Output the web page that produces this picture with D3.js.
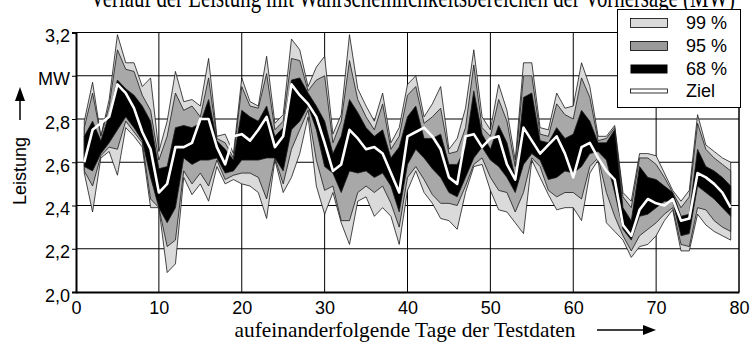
<!DOCTYPE html>
<html><head><meta charset="utf-8">
<script src="https://cdn.jsdelivr.net/npm/d3@7"></script>
<style>body{margin:0;background:#fff}svg{display:block}</style>
</head><body><svg id="c" width="752" height="346"></svg>
<script>
const days = [1,2,3,4,5,6,7,8,9,10,11,12,13,14,15,16,17,18,19,20,21,22,23,24,25,26,27,28,29,30,31,32,33,34,35,36,37,38,39,40,41,42,43,44,45,46,47,48,49,50,51,52,53,54,55,56,57,58,59,60,61,62,63,64,65,66,67,68,69,70,71,72,73,74,75,76,77,78,79];
const upper99 = [2.79,2.97,2.72,2.89,3.19,3.06,3.06,2.95,2.99,2.65,2.79,3.02,2.88,2.89,2.86,3.08,2.72,2.73,2.64,2.99,2.88,2.86,3.09,2.78,2.82,3.17,3.12,2.95,3.04,3.09,2.73,2.82,3.19,2.94,2.86,2.79,2.92,2.69,2.76,2.96,3.00,2.81,2.87,2.95,2.66,2.71,2.85,3.12,2.81,2.75,2.96,2.84,2.61,3.06,3.06,2.76,2.75,2.92,2.85,2.86,3.06,2.95,2.72,2.72,2.77,2.46,2.42,2.64,2.64,2.63,2.55,2.47,2.42,2.47,2.82,2.68,2.65,2.62,2.60];
const upper95 = [2.76,2.92,2.72,2.86,3.12,3.03,3.02,2.91,2.84,2.61,2.72,2.92,2.84,2.86,2.81,2.99,2.71,2.69,2.62,2.95,2.86,2.85,3.01,2.75,2.79,3.08,3.07,2.93,2.98,3.00,2.69,2.79,3.07,2.89,2.81,2.75,2.87,2.66,2.72,2.91,2.95,2.78,2.81,2.85,2.64,2.65,2.76,3.05,2.76,2.72,2.89,2.79,2.58,3.00,3.00,2.73,2.72,2.87,2.82,2.80,2.99,2.90,2.70,2.71,2.76,2.44,2.39,2.62,2.62,2.59,2.53,2.46,2.39,2.44,2.78,2.66,2.62,2.59,2.56];
const upper68 = [2.72,2.79,2.70,2.82,2.98,2.94,2.91,2.86,2.79,2.57,2.58,2.76,2.77,2.76,2.78,2.89,2.70,2.66,2.61,2.84,2.81,2.79,2.86,2.72,2.76,2.98,2.99,2.92,2.86,2.79,2.64,2.72,2.89,2.83,2.76,2.72,2.75,2.62,2.67,2.81,2.86,2.71,2.71,2.73,2.59,2.59,2.67,2.93,2.73,2.66,2.77,2.69,2.53,2.90,2.92,2.70,2.69,2.76,2.71,2.73,2.84,2.79,2.69,2.69,2.75,2.39,2.33,2.58,2.53,2.52,2.49,2.46,2.35,2.36,2.66,2.58,2.56,2.53,2.49];
const ziel = [2.60,2.75,2.78,2.81,2.96,2.92,2.85,2.74,2.66,2.46,2.50,2.67,2.67,2.69,2.80,2.80,2.67,2.59,2.72,2.73,2.70,2.75,2.81,2.67,2.72,2.96,2.91,2.87,2.81,2.69,2.56,2.59,2.75,2.71,2.66,2.67,2.64,2.55,2.46,2.72,2.74,2.76,2.72,2.66,2.53,2.50,2.72,2.73,2.67,2.71,2.72,2.59,2.52,2.76,2.70,2.64,2.68,2.72,2.64,2.53,2.67,2.69,2.62,2.56,2.52,2.31,2.26,2.38,2.43,2.41,2.40,2.43,2.33,2.34,2.55,2.53,2.50,2.46,2.39];
const lower68 = [2.58,2.56,2.64,2.69,2.75,2.81,2.76,2.70,2.53,2.39,2.32,2.39,2.62,2.59,2.61,2.61,2.62,2.55,2.56,2.61,2.61,2.61,2.62,2.62,2.56,2.75,2.79,2.86,2.75,2.58,2.55,2.46,2.56,2.55,2.56,2.53,2.55,2.49,2.37,2.59,2.66,2.62,2.57,2.53,2.46,2.44,2.53,2.62,2.67,2.61,2.58,2.53,2.46,2.59,2.64,2.61,2.52,2.53,2.56,2.55,2.58,2.64,2.65,2.61,2.46,2.29,2.24,2.35,2.36,2.39,2.42,2.42,2.26,2.27,2.49,2.46,2.43,2.39,2.35];
const lower95 = [2.56,2.49,2.63,2.67,2.66,2.79,2.74,2.69,2.43,2.39,2.21,2.24,2.56,2.50,2.55,2.49,2.61,2.52,2.54,2.55,2.55,2.53,2.43,2.62,2.50,2.66,2.75,2.84,2.61,2.47,2.49,2.33,2.33,2.46,2.49,2.46,2.49,2.41,2.30,2.53,2.58,2.52,2.45,2.41,2.41,2.40,2.49,2.59,2.62,2.53,2.47,2.46,2.37,2.46,2.62,2.58,2.47,2.44,2.46,2.46,2.43,2.58,2.62,2.46,2.35,2.26,2.19,2.26,2.29,2.32,2.36,2.39,2.22,2.21,2.39,2.38,2.33,2.30,2.28];
const lower99 = [2.55,2.37,2.62,2.65,2.54,2.76,2.72,2.67,2.39,2.39,2.09,2.13,2.53,2.45,2.50,2.42,2.58,2.50,2.52,2.50,2.49,2.46,2.34,2.61,2.46,2.53,2.64,2.81,2.49,2.36,2.46,2.32,2.22,2.42,2.44,2.35,2.39,2.35,2.22,2.47,2.56,2.46,2.41,2.34,2.33,2.29,2.46,2.58,2.59,2.47,2.38,2.37,2.32,2.27,2.61,2.53,2.45,2.38,2.39,2.39,2.33,2.55,2.61,2.32,2.28,2.24,2.16,2.21,2.22,2.26,2.33,2.38,2.19,2.19,2.36,2.31,2.28,2.26,2.24];
const xTicks = [0,10,20,30,40,50,60,70,80];
const yTicks = [2.0,2.2,2.4,2.6,2.8,3.0,3.2];
const yTickLabels = ["2,0","2,2","2,4","2,6","2,8","MW","3,2"];
const legendLabels = ["99 %","95 %","68 %","Ziel"];
const bandColors = ["#dadada","#a8a8a8","#000000"];
const legendColors = ["#dadada","#9a9a9a","#000000","#ffffff"];
const titleText = "Verlauf der Leistung mit Wahrscheinlichkeitsbereichen der Vorhersage (MW)";
const xTitle = "aufeinanderfolgende Tage der Testdaten";
const yTitle = "Leistung";

const svg = d3.select("#c");
const x = d3.scaleLinear().domain([0,80]).range([76,739]);
const y = d3.scaleLinear().domain([2.0,3.2]).range([292,32.5]);

// title (partly outside the top edge, as in the reference)
svg.append("text").attr("x",90).attr("y",7)
  .attr("font-family","Liberation Serif, Times New Roman, serif").attr("font-size",30)
  .attr("textLength",645).attr("lengthAdjust","spacingAndGlyphs")
  .attr("fill","#000").text(titleText);

// gridlines
const g = svg.append("g");
g.selectAll(".gx").data(xTicks.filter(t=>t>0)).enter().append("line")
  .attr("x1",d=>x(d)).attr("x2",d=>x(d)).attr("y1",y(2.0)).attr("y2",y(3.2))
  .attr("stroke","#000").attr("stroke-width",1);
g.selectAll(".gy").data(yTicks.filter(t=>t>2.0)).enter().append("line")
  .attr("x1",x(0)).attr("x2",x(80)).attr("y1",d=>y(d)).attr("y2",d=>y(d))
  .attr("stroke","#000").attr("stroke-width",1);

const data = days.map((d,i)=>({d, u99:upper99[i],u95:upper95[i],u68:upper68[i],z:ziel[i],l68:lower68[i],l95:lower95[i],l99:lower99[i]}));
const bands = [["u99","l99"],["u95","l95"],["u68","l68"]];
bands.forEach((b,k)=>{
  const area = d3.area().x(p=>x(p.d)).y0(p=>y(p[b[1]])).y1(p=>y(p[b[0]]));
  svg.append("path").datum(data).attr("d",area)
    .attr("fill",bandColors[k]).attr("stroke","#1a1a1a").attr("stroke-width",0.8)
    .attr("stroke-linejoin","miter");
});
const line = d3.line().x(p=>x(p.d)).y(p=>y(p.z));
svg.append("path").datum(data).attr("d",line).attr("fill","none")
  .attr("stroke","#fff").attr("stroke-width",2.6).attr("stroke-linejoin","round");

// axes
const xAxis = d3.axisBottom(x).tickValues(xTicks).tickSize(0).tickPadding(9);
const ax = svg.append("g").attr("transform",`translate(0,${y(2.0)})`).call(xAxis);
ax.select(".domain").attr("stroke","#000").attr("stroke-width",2);
ax.selectAll("text").attr("font-family","Liberation Sans, Arial, sans-serif").attr("font-size",18).attr("fill","#000");

const yAxis = d3.axisLeft(y).tickValues(yTicks).tickSize(4).tickPadding(2)
  .tickFormat((d,i)=>yTickLabels[i]);
const ay = svg.append("g").attr("transform",`translate(${x(0)},0)`).call(yAxis);
ay.select(".domain").attr("stroke","#000").attr("stroke-width",2);
ay.selectAll("line").attr("stroke","#000");
ay.selectAll("text").attr("font-family","Liberation Sans, Arial, sans-serif").attr("font-size",18).attr("fill","#000").attr("dy","0.5em");

// right border
svg.append("line").attr("x1",x(80)).attr("x2",x(80)).attr("y1",y(3.2)).attr("y2",y(2.0)).attr("stroke","#000").attr("stroke-width",1);

// x title + arrow
svg.append("text").attr("x",405).attr("y",337).attr("text-anchor","middle")
  .attr("font-family","Liberation Serif, Times New Roman, serif").attr("font-size",21)
  .attr("textLength",341).attr("lengthAdjust","spacingAndGlyphs").text(xTitle);
svg.append("line").attr("x1",597).attr("x2",645).attr("y1",330).attr("y2",330).attr("stroke","#000").attr("stroke-width",1.5);
svg.append("path").attr("d","M643,325 L656,330 L643,335 Z").attr("fill","#000");

// y title + arrow
svg.append("text").attr("transform","translate(26,171) rotate(-90)").attr("text-anchor","middle")
  .attr("font-family","Liberation Sans, Arial, sans-serif").attr("font-size",18).text(yTitle);
svg.append("line").attr("x1",20).attr("x2",20).attr("y1",120).attr("y2",98).attr("stroke","#000").attr("stroke-width",1.5);
svg.append("path").attr("d","M15,101 L20,87 L25,101 Z").attr("fill","#000");

// legend
const lg = svg.append("g");
lg.append("rect").attr("x",617.5).attr("y",9.5).attr("width",123).attr("height",98)
  .attr("fill","#fff").attr("stroke","#000").attr("stroke-width",1);
const rowsY = [23,46,69,91];
legendLabels.forEach((lab,i)=>{
  const h = i===3 ? 4 : 9;
  lg.append("rect").attr("x",630.5).attr("y",rowsY[i]-h/2).attr("width",37).attr("height",h)
    .attr("fill",legendColors[i]).attr("stroke","#000").attr("stroke-width",i===2?0:0.8);
  lg.append("text").attr("x",686).attr("y",rowsY[i]).attr("dy","0.36em")
    .attr("font-family","Liberation Sans, Arial, sans-serif").attr("font-size",18).text(lab);
});
</script></body></html>
